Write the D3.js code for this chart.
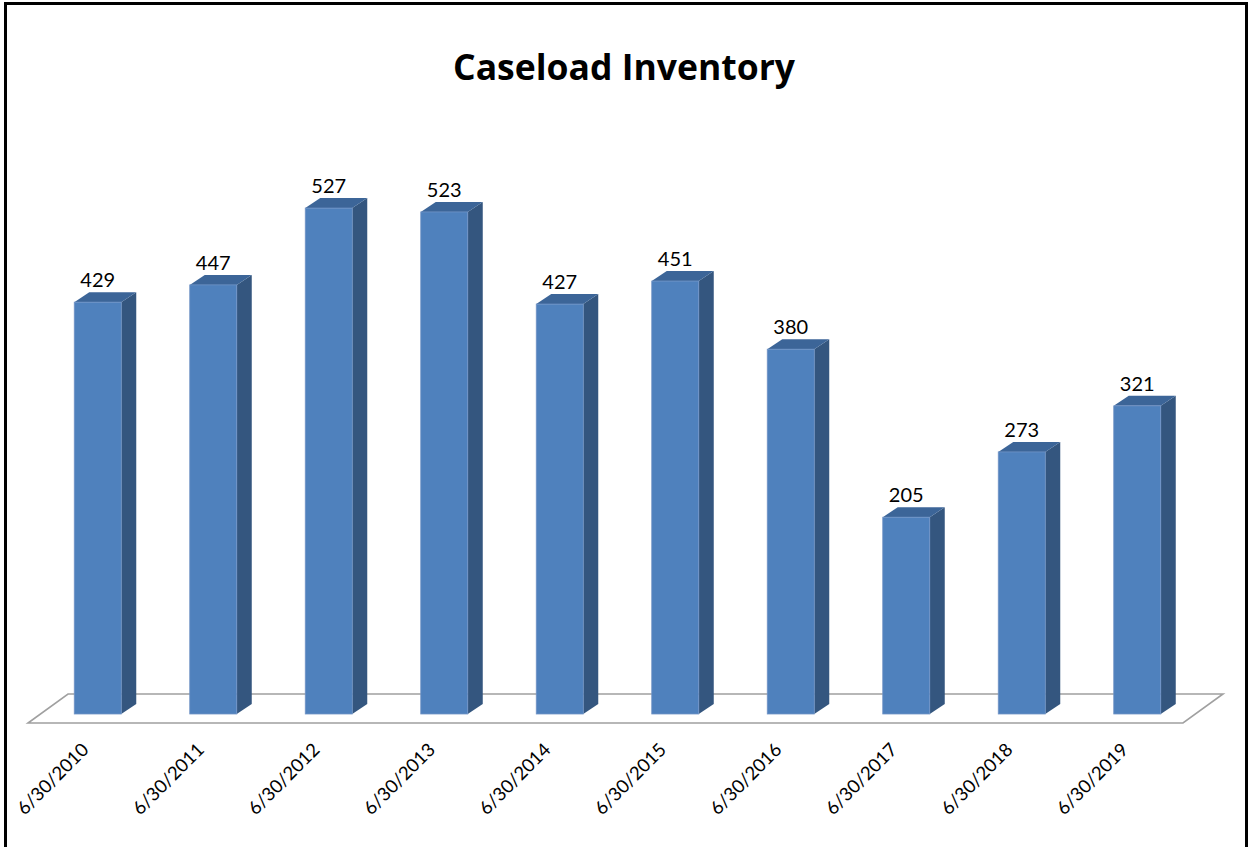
<!DOCTYPE html>
<html>
<head>
<meta charset="utf-8">
<script src="https://cdn.jsdelivr.net/npm/d3@7"></script>
<style>
  body { margin: 0; background: #fff; }
  svg { display: block; }
</style>
</head>
<body>
<script>
// Chart data
const dates = ["6/30/2010", "6/30/2011", "6/30/2012", "6/30/2013", "6/30/2014",
               "6/30/2015", "6/30/2016", "6/30/2017", "6/30/2018", "6/30/2019"];
const caseload = [429, 447, 527, 523, 427, 451, 380, 205, 273, 321];
const title = "Caseload Inventory";

const width = 1251;
const height = 847;

// floor geometry (front edge and depth offset)
const floorFrontY = 723;
const floorDx = 40, floorDy = -29;
// bars sit a bit behind the floor's front edge
const barShiftX = 12, barShiftY = -9;
const depthX = 15, depthY = -10;

const svg = d3.select("body").append("svg")
    .attr("width", width)
    .attr("height", height);

// outer frame
svg.append("rect")
    .attr("x", 5.5).attr("y", 3.5)
    .attr("width", 1241).attr("height", 870)
    .attr("fill", "#fff")
    .attr("stroke", "#000")
    .attr("stroke-width", 3);

// title
svg.append("text")
    .attr("x", 624).attr("y", 80)
    .attr("text-anchor", "middle")
    .style("font-family", "'Open Sans', Lato, sans-serif")
    .style("font-weight", "bold")
    .style("font-size", "35.5px")
    .text(title);

const x = d3.scaleBand()
    .domain(dates)
    .range([28, 1183])
    .paddingInner(0.593)
    .paddingOuter(0.2965);

const y = d3.scaleLinear()
    .domain([0, 600])
    .range([floorFrontY + barShiftY, 138]);

// floor
const fl = 28, fr = 1183;
const floor = d3.path();
floor.moveTo(fl, floorFrontY);
floor.lineTo(fr, floorFrontY);
floor.lineTo(fr + floorDx, floorFrontY + floorDy);
floor.lineTo(fl + floorDx, floorFrontY + floorDy);
floor.closePath();
svg.append("path")
    .attr("d", floor.toString())
    .attr("fill", "#fff")
    .attr("stroke", "#a0a0a0")
    .attr("stroke-width", 1.6);

const bars = svg.append("g")
    .selectAll("g")
    .data(dates.map((d, i) => ({ date: d, value: caseload[i] })))
    .join("g");

const bw = x.bandwidth();
const x0 = d => x(d.date) + barShiftX;
const base = y(0);

// side face
bars.append("path")
    .attr("d", d => {
        const l = x0(d) + bw, t = y(d.value);
        return `M${l},${t}L${l + depthX},${t + depthY}L${l + depthX},${base + depthY}L${l},${base}Z`;
    })
    .attr("fill", "#34567f");

// top face
bars.append("path")
    .attr("d", d => {
        const l = x0(d), t = y(d.value);
        return `M${l},${t}L${l + depthX},${t + depthY}L${l + bw + depthX},${t + depthY}L${l + bw},${t}Z`;
    })
    .attr("fill", "#3c6598");

// front face
bars.append("rect")
    .attr("x", x0)
    .attr("y", d => y(d.value))
    .attr("width", bw)
    .attr("height", d => base - y(d.value))
    .attr("fill", "#4f81bd")
    .attr("stroke", "#7194c6")
    .attr("stroke-width", 0.8);

// value labels
bars.append("text")
    .attr("x", d => x0(d) + bw / 2)
    .attr("y", d => y(d.value) - 15)
    .attr("text-anchor", "middle")
    .style("font-family", "Lato, 'Open Sans', sans-serif")
    .style("font-size", "20px")
    .text(d => d.value);

// category labels, rotated
svg.append("g")
    .selectAll("text")
    .data(dates)
    .join("text")
    .attr("transform", d => `translate(${x(d) + x.bandwidth() / 2 + barShiftX - 8},751) rotate(-45)`)
    .attr("text-anchor", "end")
    .style("font-family", "Lato, 'Open Sans', sans-serif")
    .style("font-size", "18.5px")
    .text(d => d);
</script>
</body>
</html>
